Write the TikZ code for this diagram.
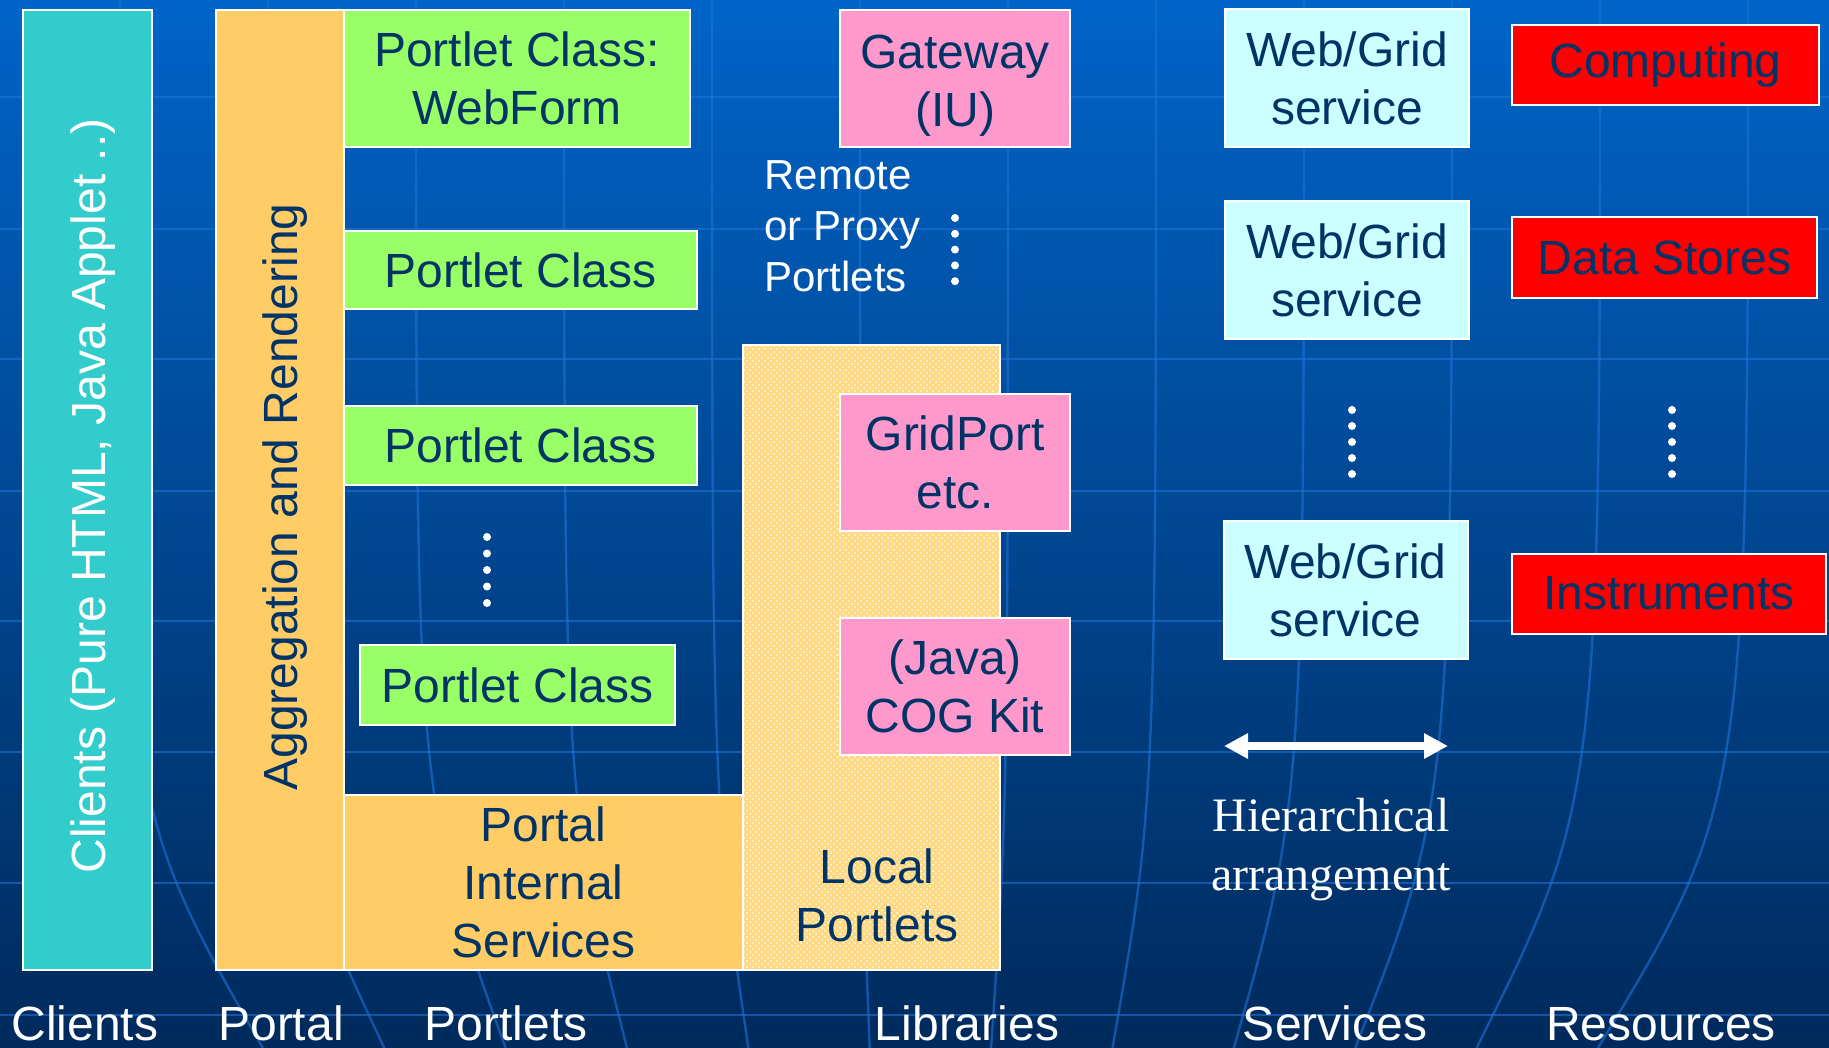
\documentclass[tikz,border=0pt]{standalone}
\usepackage{fontspec}
\setmainfont{Liberation Sans}
\newfontfamily\hierfont{Liberation Serif}
\usetikzlibrary{arrows.meta,patterns}

\definecolor{bgtop}{RGB}{0,100,200}
\definecolor{bgbottom}{RGB}{0,42,92}
\definecolor{gridblue}{RGB}{30,115,215}
\definecolor{navytext}{RGB}{0,51,102}
\definecolor{clientteal}{RGB}{51,204,204}
\definecolor{portalorange}{RGB}{255,204,102}
\definecolor{portletgreen}{RGB}{153,255,102}
\definecolor{libpink}{RGB}{255,153,204}
\definecolor{libyellow}{RGB}{255,216,128}
\definecolor{svccyan}{RGB}{204,255,255}
\definecolor{resred}{RGB}{255,0,0}

\tikzset{
  box/.style={draw=white, line width=1pt, text=navytext, align=center, inner sep=0pt,
    font=\fontsize{24}{29}\selectfont},
  portletbox/.style={box, fill=portletgreen},
  libbox/.style={box, fill=libpink, minimum width=115pt, minimum height=68.5pt},
  svcbox/.style={box, fill=svccyan, minimum width=122pt, minimum height=69pt},
  resbox/.style={box, fill=resred, minimum height=40pt},
  bartext/.style={rotate=90, inner sep=0pt, font=\fontsize{24}{29}\selectfont},
  layerlabel/.style={text=white, anchor=base, inner sep=0pt, font=\fontsize{24}{29}\selectfont},
  gridline/.style={gridblue, line width=1.2pt, opacity=0.6},
}

\begin{document}
\begin{tikzpicture}[x=0.5pt, y=-0.5pt]
  \useasboundingbox (0,0) rectangle (1829,1048);
  % background
  \shade[top color=bgtop, bottom color=bgbottom] (0,0) rectangle (1829,1048);
  \foreach \gy in {97,229,359,491,621,752,883,1015}
    \draw[gridline] (0,\gy) -- (1829,\gy);
  \foreach \gx [evaluate=\gx as \gb using {914+(\gx-914)*0.82}] in {120,268,...,1748}
    \draw[gridline] (\gx,0) .. controls (\gx,800) .. (\gb,1048);

  % clients and portal
  \node[box, fill=clientteal, minimum width=64.5pt, minimum height=480pt] (clients) at (87.5,490) {};
  \node[bartext, text=white] (clientstext) at (93.5,496) {Clients (Pure HTML, Java Applet ..)};
  \node[box, fill=portalorange, minimum width=64pt, minimum height=480pt] (portal) at (280,490) {};
  \node[bartext, text=navytext] (portaltext) at (285,497) {Aggregation and Rendering};
  \node[box, fill=portalorange, minimum width=199.5pt, minimum height=87.5pt] (internal) at (543.5,882.5) {Portal\\Internal\\Services};

  % portlets
  \node[portletbox, minimum width=173pt, minimum height=68.5pt] (webform) at (517,78.5) {Portlet Class:\\WebForm};
  \node[portletbox, minimum width=176.5pt, minimum height=39pt] (portleta) at (520.5,270) {Portlet Class};
  \node[portletbox, minimum width=176.5pt, minimum height=39.5pt] (portletb) at (520.5,445.5) {Portlet Class};
  \node[portletbox, minimum width=157.5pt, minimum height=40pt] (portletc) at (517.5,685) {Portlet Class};
  \foreach \k in {0,...,4}
    \fill[white] (487,537+16.5*\k) circle[radius=2pt];

  % libraries
  \node[box, fill=libyellow, postaction={pattern=crosshatch dots, pattern color=white}, minimum width=128.5pt, minimum height=312.5pt] (libs) at (871.5,657.5) {};
  \node[text=navytext, align=center, inner sep=0pt, font=\fontsize{24}{29}\selectfont] (localtext) at (877,895) {Local\\Portlets};
  \node[libbox] (gateway) at (955,78.5) {\rule{0pt}{23.5pt}Gateway\\(IU)};
  \node[libbox] (gridport) at (955,462.5) {GridPort\\etc.};
  \node[libbox] (cogkit) at (955,686.5) {(Java)\\COG Kit};
  \node[text=white, align=left, anchor=west, inner sep=0pt, font=\fontsize{21}{25.5}\selectfont] (remote) at (764,226) {Remote\\or Proxy\\Portlets};
  \foreach \k in {0,...,4}
    \fill[white] (955,218+15.8*\k) circle[radius=2pt];

  % services
  \node[svcbox] (svca) at (1347,78) {Web/Grid\\service};
  \node[svcbox] (svcb) at (1347,270) {Web/Grid\\service};
  \node[svcbox] (svcc) at (1345.5,590) {Web/Grid\\service};
  \foreach \k in {0,...,4}
    \fill[white] (1352,410+16*\k) circle[radius=2pt];

  % resources
  \node[resbox, minimum width=153.5pt] (computing) at (1665.5,65) {Computing};
  \node[resbox, minimum width=152.5pt] (datastores) at (1664.5,257.5) {Data Stores};
  \node[resbox, minimum width=157pt] (instruments) at (1669,593.5) {Instruments};
  \foreach \k in {0,...,4}
    \fill[white] (1672,410+16*\k) circle[radius=2pt];

  % hierarchy arrow
  \coordinate (hierleft) at (1224,746);
  \coordinate (hierright) at (1448,746);
  \draw[white, line width=4pt, {Triangle[length=12pt,width=12pt]}-{Triangle[length=12pt,width=12pt]}] (hierleft) -- (hierright);
  \node[text=white, align=center, inner sep=0pt, font=\hierfont\fontsize{24}{29.5}\selectfont] (hiertext) at (1331,850) {Hierarchical\\arrangement};

  % layer labels
  \node[layerlabel] (lblclients) at (85,1040) {Clients};
  \node[layerlabel] (lblportal) at (281,1040) {Portal};
  \node[layerlabel] (lblportlets) at (506,1040) {Portlets};
  \node[layerlabel] (lbllibs) at (967,1040) {Libraries};
  \node[layerlabel] (lblservices) at (1335,1040) {Services};
  \node[layerlabel] (lblresources) at (1661,1040) {Resources};
\end{tikzpicture}
\end{document}
